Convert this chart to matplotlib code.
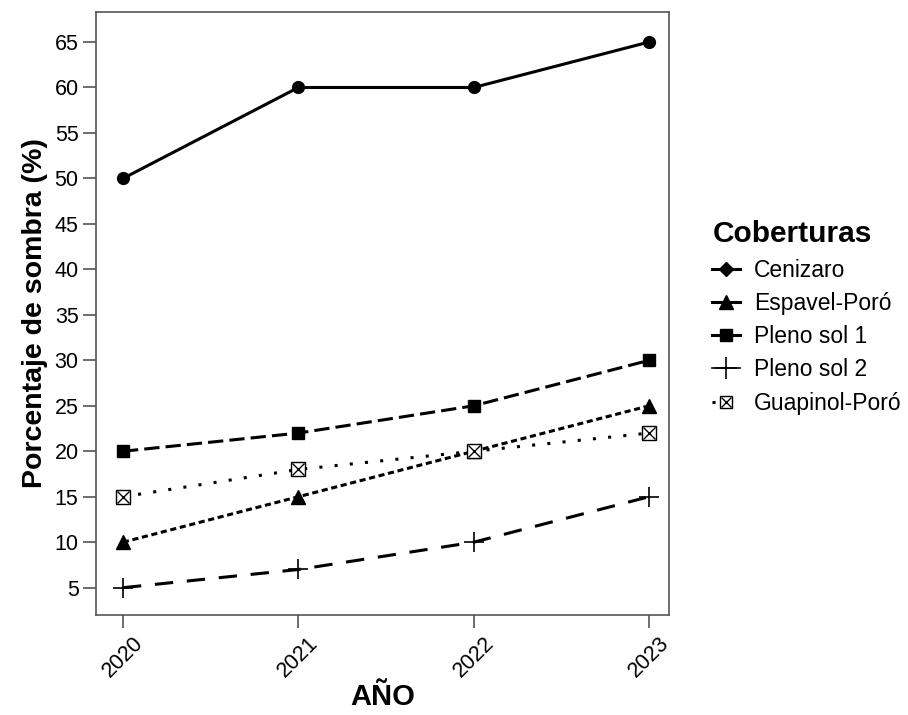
import matplotlib.pyplot as plt
from matplotlib.lines import Line2D
from matplotlib.legend_handler import HandlerTuple

plt.rcParams['font.family'] = ['Liberation Sans', 'DejaVu Sans']

anios = [2020, 2021, 2022, 2023]
cenizaro = [50, 60, 60, 65]
espavel_poro = [10, 15, 20, 25]
pleno_sol_1 = [20, 22, 25, 30]
pleno_sol_2 = [5, 7, 10, 15]
guapinol_poro = [15, 18, 20, 22]
y_ticks = [5, 10, 15, 20, 25, 30, 35, 40, 45, 50, 55, 60, 65]

fig = plt.figure(figsize=(9.08, 7.15), dpi=100)
ax = fig.add_axes([0.1057, 0.1399, 0.6311, 0.8433])

lw = 2.2
ax.plot(anios, cenizaro, color='black', lw=lw, ls='-', marker='o', ms=8.5)
ax.plot(anios, espavel_poro, color='black', lw=lw, ls=(0, (2.0, 1.2)), marker='^', ms=10)
ax.plot(anios, pleno_sol_1, color='black', lw=lw, ls=(0, (5.0, 2.0)), marker='s', ms=9)
ax.plot(anios, pleno_sol_2, color='black', lw=lw, ls=(0, (6.0, 4.5)), marker='+', ms=15, mew=1.2)
ax.plot(anios, guapinol_poro, color='black', lw=lw, ls=(0, (1, 4.0)))
ax.plot(anios, guapinol_poro, ls='none', marker='s', ms=10, mfc='white', mec='black', mew=1.0)
ax.plot(anios, guapinol_poro, ls='none', marker='x', ms=8, mec='black', mew=1.0)

ax.set_xlim(2019.846, 2023.114)
ax.set_ylim(2.0, 68.3)
ax.set_xticks(anios)
ax.set_xticklabels([str(a) for a in anios], rotation=45, ha='center', va='top')
ax.set_yticks(y_ticks)
ax.tick_params(axis='both', direction='out', length=9.5, width=1.2, labelsize=15.5,
               color='#555555', pad=3)
for s in ax.spines.values():
    s.set_color('#555555')
    s.set_linewidth(1.2)

ax.set_xlabel('AÑO', fontsize=21, fontweight='bold', labelpad=1)
ax.set_ylabel('Porcentaje de sombra (%)', fontsize=20.5, fontweight='bold', labelpad=5)

handles = [
    Line2D([], [], color='black', lw=lw, marker='D', ms=7),
    Line2D([], [], color='black', lw=lw, marker='^', ms=10),
    Line2D([], [], color='black', lw=lw, marker='s', ms=8),
    Line2D([], [], color='black', lw=1.2, marker='+', ms=16, mew=1.2),
    (Line2D([], [], color='black', lw=lw, ls=(0, (1, 4.0))),
     Line2D([], [], ls='none', marker='s', ms=9, mfc='white', mec='black', mew=1.0),
     Line2D([], [], ls='none', marker='x', ms=7, mec='black', mew=1.0)),
]
labels = ['Cenizaro', 'Espavel-Poró', 'Pleno sol 1', 'Pleno sol 2', 'Guapinol-Poró']
leg = fig.legend(handles, labels, loc='upper left', bbox_to_anchor=(0.772, 0.708),
                 frameon=False, fontsize=16.5, handlelength=1.2, handletextpad=0.6,
                 labelspacing=0.45, title='Coberturas', borderpad=0,
                 handler_map={tuple: HandlerTuple(ndivide=1, pad=0)})
leg.get_title().set_fontsize(21.5)
leg.get_title().set_fontweight('bold')
leg._legend_box.align = 'left'

fig.savefig('out.png', dpi=100)
